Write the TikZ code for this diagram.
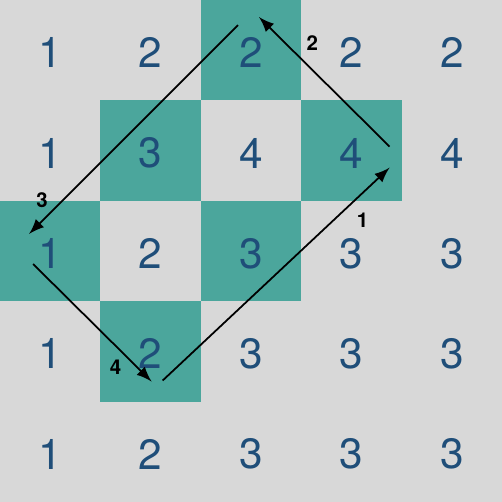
\documentclass[tikz,border=0pt]{standalone}
\usepackage{fontspec}
\setmainfont{TeX Gyre Heros}
\definecolor{cellgray}{RGB}{216,216,216}
\definecolor{cellteal}{RGB}{75,166,156}
\definecolor{numblue}{RGB}{31,78,121}

\begin{document}
\begin{tikzpicture}[x=1cm,y=-1cm,>=latex,
    cell/.style={inner sep=0pt,text=numblue,yshift=-0.7pt,font=\fontsize{12}{12}\selectfont},
    steplabel/.style={inner sep=0pt,font=\bfseries\fontsize{5.8}{6}\selectfont}]
      \fill[cellgray] (0,0) rectangle (5,5);
      \foreach \r/\c in {0/2,1/1,1/3,2/0,2/2,3/1}
        \fill[cellteal] (\c,\r) rectangle ++(1,1);
      \foreach \row [count=\r from 0] in {{1,2,2,2,2},{1,3,4,4,4},{1,2,3,3,3},{1,2,3,3,3},{1,2,3,3,3}}
        \foreach \v [count=\c from 0] in \row
          \node[cell] (n\r\c) at (\c+0.5,\r+0.5) {\v};
      \coordinate (s1) at (1.62,3.79);
      \coordinate (t1) at (3.88,1.67);
      \coordinate (s2) at (3.88,1.46);
      \coordinate (t2) at (2.58,0.17);
      \coordinate (s3) at (2.37,0.25);
      \coordinate (t3) at (0.29,2.33);
      \coordinate (s4) at (0.33,2.63);
      \coordinate (t4) at (1.51,3.80);
      \draw[->,line width=0.5pt] (s1) -- (t1);
      \draw[->,line width=0.5pt] (s2) -- (t2);
      \draw[->,line width=0.5pt] (s3) -- (t3);
      \draw[->,line width=0.5pt] (s4) -- (t4);
      \node[steplabel] (l1) at (3.61,2.19) {1};
      \node[steplabel] (l2) at (3.11,0.43) {2};
      \node[steplabel] (l3) at (0.42,1.99) {3};
      \node[steplabel] (l4) at (1.15,3.66) {4};
    \end{tikzpicture}
\end{document}
